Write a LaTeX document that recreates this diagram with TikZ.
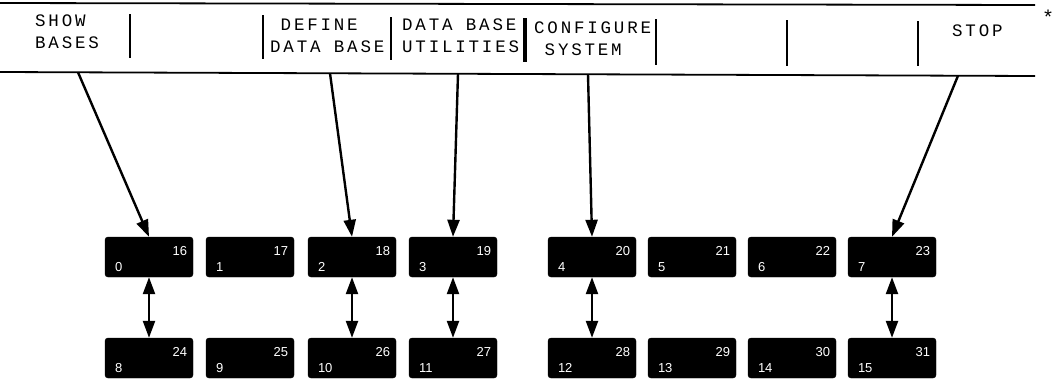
\documentclass[tikz,border=0pt]{standalone}
\usepackage{fontspec}
\setmainfont{Liberation Sans}
\newfontfamily\keyfont[LetterSpace=16]{Liberation Mono}
\usetikzlibrary{arrows.meta,calc}

\begin{document}
\begin{tikzpicture}[x=1pt,y=-1pt,
  key/.style={fill=black,draw=black,rounded corners=3pt,minimum width=88pt,
              minimum height=40pt,inner sep=0pt},
  num/.style={text=white,font=\fontsize{13}{13}\selectfont,inner sep=0pt},
  softkey/.style={font=\keyfont\fontsize{17.5}{22}\selectfont,align=left,
                  inner sep=0pt,anchor=north west},
  sep/.style={line width=1.4pt},
  link/.style={line width=2.4pt,-{Triangle[length=17pt,width=12pt]}},
  both/.style={line width=2.4pt,
               {Triangle[length=17pt,width=12pt]}-{Triangle[length=17pt,width=12pt]}}]
\useasboundingbox (0,0) rectangle (1054,381);

% soft-key bar frame
\draw[line width=1.8pt] (0,3) -- (1035,5);
\draw[line width=1.8pt] (0,72) -- (1035,76);

% separators between the soft keys
\draw[sep] (130,14) -- (130,58);
\draw[sep] (263,15) -- (263,59);
\draw[sep] (391,17) -- (391,60);
\draw[line width=4pt] (525,18) -- (525,62);
\draw[sep] (656,19) -- (656,65);
\draw[sep] (787,20) -- (787,66);
\draw[sep] (918,21) -- (918,66);

% soft-key labels
\node[softkey] (show)   at (35,15)  {SHOW\\BASES};
\node[softkey] (define) at (270,19) {\phantom{D}DEFINE\\DATA BASE};
\node[softkey] (util)   at (402,19) {DATA BASE\\UTILITIES};
\node[softkey] (config) at (534,22) {CONFIGURE\\\phantom{C}SYSTEM};
\node[softkey] (stop)   at (952,25) {STOP};
\node[font=\keyfont\fontsize{20}{20}\selectfont,inner sep=0pt,anchor=base]
  (mark) at (1048,24) {*};

% key blocks: upper row 0-7 (shifted 16-23), lower row 8-15 (shifted 24-31)
\foreach \i/\x in {0/149,1/250,2/352,3/453,4/592,5/692,6/792,7/892} {
  \pgfmathtruncatemacro\j{\i+8}
  \pgfmathtruncatemacro\a{\i+16}
  \pgfmathtruncatemacro\b{\i+24}
  \node[key] (k\i) at (\x,257) {};
  \node[key] (k\j) at (\x,358) {};
  \node[num,anchor=east] (ua\i) at ($(k\i.north east)+(-6,14)$) {\a};
  \node[num,anchor=west] (la\i) at ($(k\i.north west)+(10,30)$) {\i};
  \node[num,anchor=east] (ub\i) at ($(k\j.north east)+(-6,14)$) {\b};
  \node[num,anchor=west] (lb\i) at ($(k\j.north west)+(10,30)$) {\j};
}

% points on the bar where the pointers leave
\coordinate (s0) at (78,72.3);
\coordinate (s2) at (330,73.3);
\coordinate (s3) at (458,73.8);
\coordinate (s4) at (588,74.3);
\coordinate (s7) at (958,75.7);

\draw[link] (s0) -- (k0.north);
\draw[link] (s2) -- (k2.north);
\draw[link] (s3) -- (k3.north);
\draw[link] (s4) -- (k4.north);
\draw[link] (s7) -- (k7.north);

% shift links between the two rows
\draw[both] (k0.south) -- (k8.north);
\draw[both] (k2.south) -- (k10.north);
\draw[both] (k3.south) -- (k11.north);
\draw[both] (k4.south) -- (k12.north);
\draw[both] (k7.south) -- (k15.north);
\end{tikzpicture}
\end{document}
